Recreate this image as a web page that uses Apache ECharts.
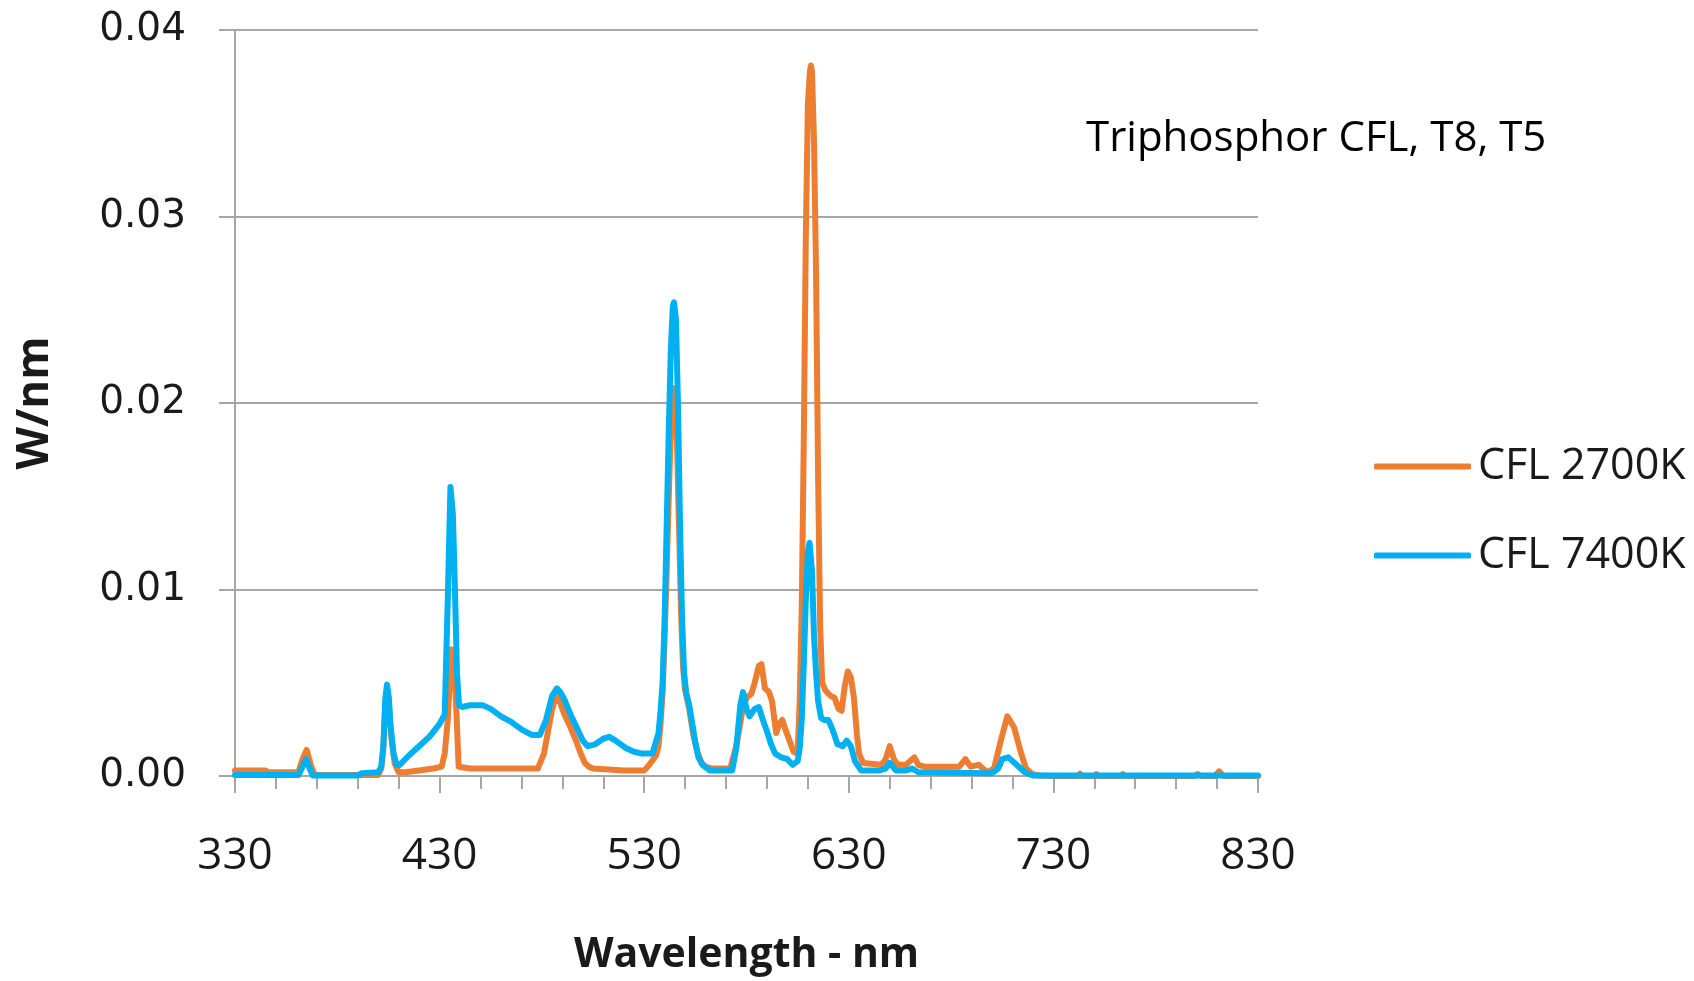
<!DOCTYPE html>
<html>
<head>
<meta charset="utf-8">
<script src="https://cdn.jsdelivr.net/npm/echarts@6/dist/echarts.min.js"></script>
<style>
html,body{margin:0;padding:0;background:#fff;}
#chart{width:1694px;height:981px;}
</style>
</head>
<body>
<div id="chart"></div>
<script>
// Wavelength (nm) and spectral power (W/nm) for each lamp
var wl2700 = [330,345,346,361,363,365,367,369,400,401.5,402.5,403.5,404.3,405.2,406.5,408,410,413,420,427,431,432.5,434,435.7,437,438.2,439.3,445,478,481,483,485,487,489,491,494,497,499,501,503,505,520,530,532.5,535.8,537,538,539,540,541,542,543,544,545,546,547,548,549,550,552,554,556,558,560,563,572,575,578,580,582.4,584,586,587.3,589,591,592.5,594.5,596,597.5,599,601,603,605,606,607,608,609,610,611,611.5,612,613,614,615,616,617,618.5,621,623,625,626.5,628,629.5,631,632.5,634,635,637,646,648,650,652,654,658,660,662,664,667,684,687,689.5,693.5,697.5,701,704.3,707.5,710.8,714,716.6,719.8,723,730,742,743,744,750,751,752,763,764,765,799,800.5,802,809,811,813,830];
var w2700 = [0.0003,0.0003,0.0002,0.0002,0.0009,0.0014,0.0006,0.00005,0.00005,0.0004,0.0015,0.0038,0.0045,0.0038,0.002,0.0007,0.0002,0.0002,0.0003,0.0004,0.0005,0.0012,0.003,0.0068,0.006,0.0035,0.0005,0.0004,0.0004,0.0012,0.0024,0.0036,0.0043,0.0039,0.0033,0.0026,0.0018,0.0012,0.0007,0.0005,0.0004,0.0003,0.0003,0.0006,0.0011,0.0016,0.0028,0.0045,0.0075,0.011,0.015,0.0185,0.0208,0.0205,0.018,0.0135,0.0088,0.0058,0.0046,0.0036,0.0022,0.0013,0.0007,0.0005,0.0004,0.0004,0.0016,0.0035,0.0042,0.0044,0.005,0.0059,0.006,0.0047,0.0045,0.004,0.0023,0.0028,0.003,0.0025,0.0019,0.0013,0.0012,0.004,0.009,0.018,0.029,0.036,0.0378,0.0381,0.0378,0.034,0.027,0.016,0.008,0.005,0.0046,0.0043,0.0042,0.0036,0.0035,0.0048,0.0056,0.0053,0.0042,0.0022,0.0012,0.0007,0.0006,0.0009,0.0016,0.0009,0.0006,0.0006,0.0008,0.001,0.0006,0.0005,0.0005,0.0009,0.0005,0.0006,0.0002,0.0004,0.0019,0.0032,0.0026,0.0013,0.0004,0.0001,0.00003,0,0,0.00012,0,0,0.0001,0,0,0.0001,0,0,0.0001,0,0,0.00025,0,0];

var wl7400 = [330,361,363,364.7,366.5,368,390,392,400,401.5,402.5,403.5,404.3,405.2,406,407.5,409,410.5,415,420,425,430,432.5,434,435.3,436.5,437.5,438.5,439.5,441,445,451,455,460,465,470,475,479,482,485,487.3,489,491,494,497,500,502.4,506,510,513,516,521,525,529,534,537,538,539,540,541,542,543,544,544.6,545.5,546.5,547.5,548.5,549.5,550.5,552,553.5,555,556.5,558.5,562,573,575,577,578.3,580,581.5,584,586,588,590,592,594,597,600,602.5,605,606,607,608,609,610,610.8,612,613,614,615,616.5,618,620,622,624.5,627,629,631,633,636,645,648,650,653,658,661,664,700,703,705,708,712,716,720,830];
var w7400 = [0.00005,0.00005,0.0005,0.0009,0.0004,0.00003,0.00003,0.00015,0.0002,0.0005,0.0016,0.0042,0.0049,0.0042,0.0027,0.0012,0.0006,0.0006,0.0011,0.0016,0.0021,0.0028,0.0033,0.0095,0.0155,0.014,0.01,0.0055,0.0038,0.0037,0.0038,0.0038,0.0036,0.0032,0.0029,0.0025,0.0022,0.0022,0.003,0.0043,0.0047,0.0045,0.0041,0.0033,0.0026,0.0019,0.0016,0.0017,0.002,0.0021,0.0019,0.0015,0.0013,0.0012,0.0012,0.0023,0.0035,0.005,0.0085,0.0135,0.0185,0.0228,0.0252,0.0254,0.0245,0.02,0.0135,0.0085,0.0055,0.0045,0.0038,0.0028,0.0018,0.001,0.0006,0.0003,0.0003,0.0015,0.0038,0.0045,0.0036,0.0032,0.0036,0.0037,0.003,0.0024,0.0017,0.0012,0.001,0.0009,0.0006,0.0008,0.0015,0.003,0.006,0.0095,0.012,0.0125,0.011,0.0075,0.0055,0.004,0.0031,0.003,0.003,0.0025,0.0017,0.0016,0.0019,0.0016,0.0008,0.0003,0.0003,0.0004,0.0007,0.0003,0.0003,0.0004,0.0002,0.00015,0.0004,0.0009,0.001,0.0006,0.0002,0.00003,0.00003];

var seriesNames = ['CFL 2700K', 'CFL 7400K'];
var xTicks = [330, 430, 530, 630, 730, 830];
var yTicks = [0, 0.01, 0.02, 0.03, 0.04];
var titleText = 'Triphosphor CFL, T8, T5';
var xName = 'Wavelength - nm';
var yName = 'W/nm';

function pairs(xs, ys) { return xs.map(function (x, i) { return [x, ys[i]]; }); }

var chart = echarts.init(document.getElementById('chart'), null, {renderer: 'canvas'});
var gridColor = '#a6a6a6';
var txt = '#1a1a1a';
chart.setOption({
  animation: false,
  backgroundColor: '#ffffff',
  title: {
    text: titleText, left: 1086, top: 118, padding: 0,
    textStyle: {fontFamily: 'Open Sans', fontWeight: 'normal', fontSize: 42, lineHeight: 42, color: '#000'}
  },
  legend: {
    orient: 'vertical', left: 1374, top: 445, padding: 0,
    itemWidth: 97, itemHeight: 6, itemGap: 46,
    icon: 'roundRect',
    textStyle: {fontFamily: 'Open Sans', fontSize: 43, lineHeight: 43, color: txt, padding: [0,0,0,2]},
    data: seriesNames
  },
  grid: {left: 235, right: 436, top: 30, bottom: 202, containLabel: false},
  xAxis: {
    type: 'value', min: xTicks[0], max: xTicks[xTicks.length - 1], interval: 100,
    name: xName, nameLocation: 'middle', nameGap: 159,
    nameTextStyle: {fontFamily: 'Open Sans', fontWeight: 'bold', fontSize: 41, lineHeight: 41, color: txt},
    axisLine: {show: true, onZero: false, lineStyle: {color: gridColor, width: 2}},
    axisTick: {show: true, length: 17, lineStyle: {color: gridColor, width: 2}},
    minorTick: {show: true, splitNumber: 5, length: 13, lineStyle: {color: gridColor, width: 2}},
    splitLine: {show: false},
    axisLabel: {margin: 80, verticalAlign: 'middle', fontFamily: 'Open Sans', fontSize: 44, color: txt,
      formatter: function (v) { return String(v); }}
  },
  yAxis: {
    type: 'value', min: yTicks[0], max: yTicks[yTicks.length - 1], interval: 0.01,
    name: yName, nameLocation: 'middle', nameGap: 178, nameRotate: 90,
    nameTextStyle: {fontFamily: 'Open Sans', fontWeight: 'bold', fontSize: 44, lineHeight: 44, color: txt},
    axisLine: {show: true, lineStyle: {color: gridColor, width: 2}},
    axisTick: {show: true, length: 16, lineStyle: {color: gridColor, width: 2}},
    splitLine: {show: true, lineStyle: {color: gridColor, width: 2}},
    axisLabel: {margin: 49, fontFamily: 'DejaVu Sans', fontSize: 39, color: txt,
      formatter: function (v) { return v.toFixed(2); }}
  },
  series: [
    {name: seriesNames[0], type: 'line', data: pairs(wl2700, w2700), showSymbol: false, symbol: 'none',
      lineStyle: {color: '#ED7D31', width: 6, join: 'round', cap: 'round'}, itemStyle: {color: '#ED7D31'}},
    {name: seriesNames[1], type: 'line', data: pairs(wl7400, w7400), showSymbol: false, symbol: 'none',
      lineStyle: {color: '#00B0F0', width: 6, join: 'round', cap: 'round'}, itemStyle: {color: '#00B0F0'}}
  ]
});
</script>
</body>
</html>
